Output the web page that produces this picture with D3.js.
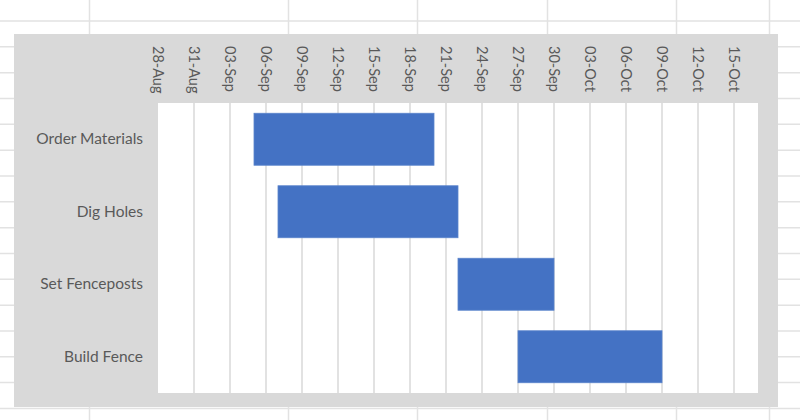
<!DOCTYPE html>
<html>
<head>
<meta charset="utf-8">
<script src="https://cdn.jsdelivr.net/npm/d3@7"></script>
<style>
html,body{margin:0;padding:0;background:#fff;}
svg{display:block;}
</style>
</head>
<body>
<svg id="chart" width="800" height="420"></svg>
<script>
// ---- data ----
const tasks = ["Order Materials", "Dig Holes", "Set Fenceposts", "Build Fence"];
const startDates = ["2017-09-05", "2017-09-07", "2017-09-22", "2017-09-27"];
const endDates   = ["2017-09-20", "2017-09-22", "2017-09-30", "2017-10-09"];
const tickLabels = ["28-Aug","31-Aug","03-Sep","06-Sep","09-Sep","12-Sep","15-Sep","18-Sep",
                    "21-Sep","24-Sep","27-Sep","30-Sep","03-Oct","06-Oct","09-Oct","12-Oct","15-Oct"];
const axisMin = "2017-08-28";
const axisMax = "2017-10-17";

// ---- setup ----
const parse = d3.utcParse("%Y-%m-%d");
const fmt = d3.utcFormat("%d-%b");
const svg = d3.select("#chart");
const W = 800, H = 420;
const font = "Lato, 'Liberation Sans', sans-serif";
const textColor = "#595959";

// spreadsheet background grid
const bg = svg.append("g");
const colLines = [89, 288, 417, 547, 676, 769];
bg.selectAll("line.c").data(colLines).join("line")
  .attr("x1", d => d + 0.5).attr("x2", d => d + 0.5).attr("y1", 0).attr("y2", H)
  .attr("stroke", "#e2e2e2").attr("stroke-width", 1.5);
const rowLines = d3.range(0, 16).map(i => 21 + i * 25.83);
bg.selectAll("line.r").data(rowLines).join("line")
  .attr("x1", 0).attr("x2", W).attr("y1", d => d).attr("y2", d => d)
  .attr("stroke", "#e2e2e2").attr("stroke-width", 1.5);

// chart area
svg.append("rect").attr("x", 14).attr("y", 34).attr("width", 764).attr("height", 373).attr("fill", "#d9d9d9");

// plot area
const plot = {left: 158, right: 758, top: 103, bottom: 393};
svg.append("rect").attr("x", plot.left).attr("y", plot.top)
  .attr("width", plot.right - plot.left).attr("height", plot.bottom - plot.top).attr("fill", "#ffffff");

const x = d3.scaleUtc().domain([parse(axisMin), parse(axisMax)]).range([plot.left, plot.right]);
const y = d3.scaleBand().domain(tasks).range([plot.top, plot.bottom]).paddingInner(0.283).paddingOuter(0.1415);

const tickDates = tickLabels.map(l => d3.utcParse("%d-%b-%Y")(l + "-2017"));

// vertical gridlines
svg.append("g").selectAll("line").data(tickDates.slice(1)).join("line")
  .attr("x1", d => x(d)).attr("x2", d => x(d))
  .attr("y1", plot.top).attr("y2", plot.bottom)
  .attr("stroke", "#d9d9d9").attr("stroke-width", 1.5);

// bars
svg.append("g").selectAll("rect").data(tasks).join("rect")
  .attr("x", (d, i) => x(parse(startDates[i])))
  .attr("width", (d, i) => x(parse(endDates[i])) - x(parse(startDates[i])))
  .attr("y", d => y(d))
  .attr("height", y.bandwidth())
  .attr("fill", "#4472c4")
  .attr("stroke", "#5b84cc").attr("stroke-width", 0.8);

// top date axis, rotated labels
const xAxis = d3.axisTop(x).tickValues(tickDates).tickSize(0).tickFormat(fmt);
const gx = svg.append("g").attr("transform", `translate(0,46)`).call(xAxis);
gx.select(".domain").remove();
gx.selectAll("text")
  .attr("transform", "rotate(90)")
  .attr("x", 0).attr("y", 0).attr("dy", "0.36em")
  .attr("text-anchor", "start")
  .attr("fill", textColor)
  .style("font-family", font).style("font-size", "14.5px");

// category axis
const yAxis = d3.axisLeft(y).tickSize(0).tickPadding(15);
const gy = svg.append("g").attr("transform", `translate(${plot.left},0)`).call(yAxis);
gy.select(".domain").remove();
gy.selectAll("text").attr("fill", textColor)
  .style("font-family", font).style("font-size", "15.5px");
</script>
</body>
</html>
